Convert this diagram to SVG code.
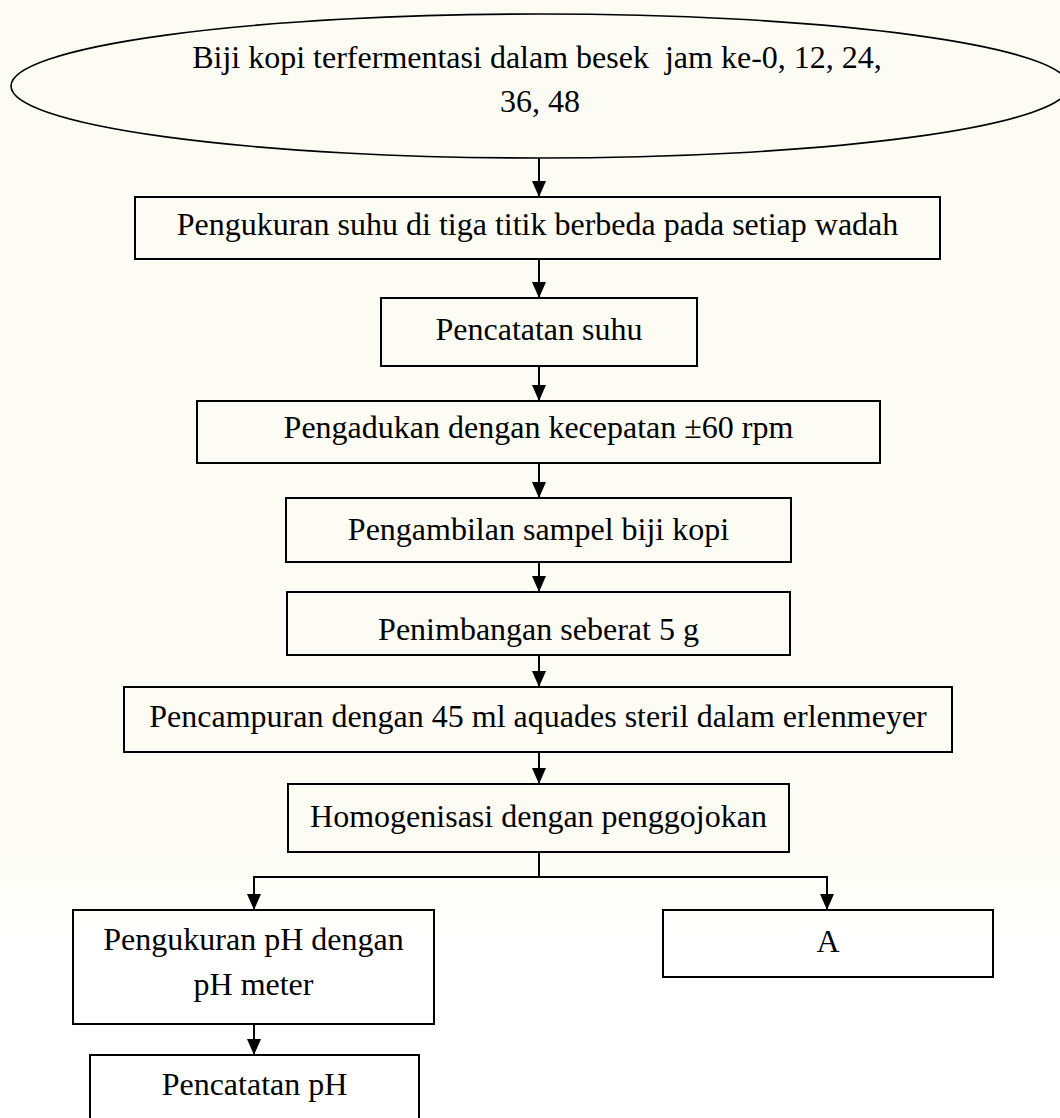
<svg xmlns="http://www.w3.org/2000/svg" width="1060" height="1118" viewBox="0 0 1060 1118">
  <defs>
    <marker id="arrow" viewBox="0 0 16 14" refX="16" refY="7" markerWidth="16" markerHeight="14" markerUnits="userSpaceOnUse" orient="auto">
      <path d="M0,0 L16,7 L0,14 z" fill="#000"/>
    </marker>
    <linearGradient id="bg" x1="0" y1="0" x2="0" y2="1118" gradientUnits="userSpaceOnUse">
      <stop offset="0" stop-color="#fcfcf5"/>
      <stop offset="0.76" stop-color="#fcfcf5"/>
      <stop offset="0.84" stop-color="#ffffff"/>
      <stop offset="1" stop-color="#ffffff"/>
    </linearGradient>
    <style>
      .box { fill: none; stroke: #000; stroke-width: 2; }
      .oval { fill: none; stroke: #000; stroke-width: 1.6; }
      .lbl { font-family: "Liberation Serif", "Times New Roman", serif; font-size: 32px; fill: #000; text-anchor: middle; white-space: pre; }
      .conn { fill: none; stroke: #000; stroke-width: 2; }
      .arr { marker-end: url(#arrow); }
    </style>
  </defs>
  <rect x="0" y="0" width="1060" height="1118" fill="url(#bg)"/>

  <g id="n0">
    <ellipse class="oval" cx="540" cy="86" rx="529" ry="72"/>
    <text class="lbl" x="537" y="68">Biji kopi terfermentasi dalam besek  jam ke-0, 12, 24,</text>
    <text class="lbl" x="540" y="112">36, 48</text>
  </g>
  <g id="n1">
    <rect class="box" x="135" y="197" width="805" height="62"/>
    <text class="lbl" x="537.5" y="235">Pengukuran suhu di tiga titik berbeda pada setiap wadah</text>
  </g>
  <g id="n2">
    <rect class="box" x="381" y="298" width="316" height="68"/>
    <text class="lbl" x="539" y="340">Pencatatan suhu</text>
  </g>
  <g id="n3">
    <rect class="box" x="197" y="401" width="683" height="62"/>
    <text class="lbl" x="538.5" y="438">Pengadukan dengan kecepatan ±60 rpm</text>
  </g>
  <g id="n4">
    <rect class="box" x="286" y="498" width="505" height="64"/>
    <text class="lbl" x="538.5" y="540">Pengambilan sampel biji kopi</text>
  </g>
  <g id="n5">
    <rect class="box" x="287" y="592" width="503" height="63"/>
    <text class="lbl" x="538.5" y="640">Penimbangan seberat 5 g</text>
  </g>
  <g id="n6">
    <rect class="box" x="124" y="687" width="828" height="65"/>
    <text class="lbl" x="538" y="727">Pencampuran dengan 45 ml aquades steril dalam erlenmeyer</text>
  </g>
  <g id="n7">
    <rect class="box" x="288" y="784" width="501" height="68"/>
    <text class="lbl" x="538.5" y="827">Homogenisasi dengan penggojokan</text>
  </g>
  <g id="n8">
    <rect class="box" x="73" y="910" width="361" height="114"/>
    <text class="lbl" x="253.5" y="950">Pengukuran pH dengan</text>
    <text class="lbl" x="253.5" y="995">pH meter</text>
  </g>
  <g id="n9">
    <rect class="box" x="663" y="910" width="330" height="67"/>
    <text class="lbl" x="828" y="952">A</text>
  </g>
  <g id="n10">
    <rect class="box" x="90" y="1055" width="329" height="80"/>
    <text class="lbl" x="254.5" y="1095">Pencatatan pH</text>
  </g>

  <g id="connectors">
    <line class="conn arr" x1="539" y1="158" x2="539" y2="197"/>
    <line class="conn arr" x1="539" y1="259" x2="539" y2="298"/>
    <line class="conn arr" x1="539" y1="366" x2="539" y2="401"/>
    <line class="conn arr" x1="539" y1="463" x2="539" y2="498"/>
    <line class="conn arr" x1="539" y1="562" x2="539" y2="592"/>
    <line class="conn arr" x1="539" y1="655" x2="539" y2="687"/>
    <line class="conn arr" x1="539" y1="752" x2="539" y2="784"/>
    <polyline class="conn" points="539,852 539,877"/>
    <polyline class="conn arr" points="539,877 254,877 254,910"/>
    <polyline class="conn arr" points="539,877 827,877 827,910"/>
    <line class="conn arr" x1="254" y1="1024" x2="254" y2="1055"/>
  </g>
</svg>
